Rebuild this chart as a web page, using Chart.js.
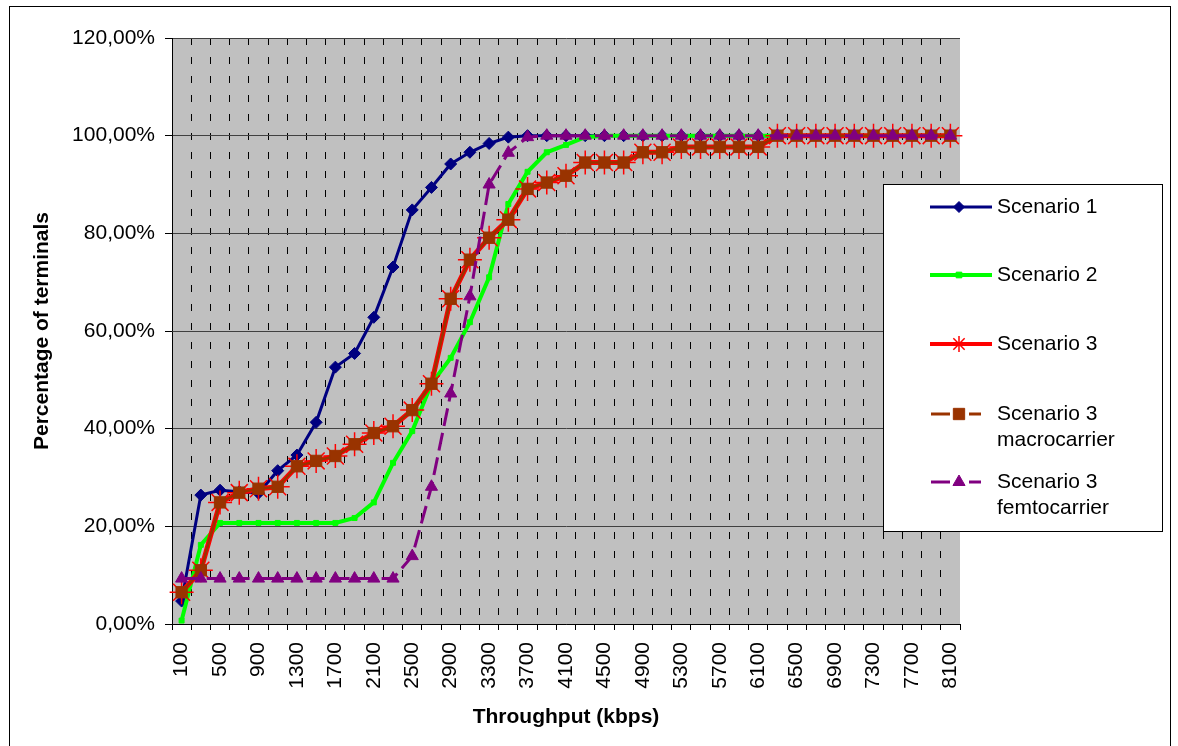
<!DOCTYPE html>
<html><head><meta charset="utf-8">
<script src="https://cdn.jsdelivr.net/npm/chart.js@4.4.1/dist/chart.umd.min.js"></script>
<style>html,body{margin:0;padding:0;background:#fff;}#wrap{width:1178px;height:746px;position:relative;}</style>
</head><body><div id="wrap"><canvas id="c" width="1178" height="746"></canvas></div>
<script>
const categories = [100,300,500,700,900,1100,1300,1500,1700,1900,2100,2300,2500,2700,2900,3100,3300,3500,3700,3900,4100,4300,4500,4700,4900,5100,5300,5500,5700,5900,6100,6300,6500,6700,6900,7100,7300,7500,7700,7900,8100];
const scenario1 = [4.7,26.4,27.4,27.1,26.8,31.4,34.6,41.3,52.6,55.4,62.8,73.1,84.8,89.4,94.2,96.6,98.4,99.7,100,100,100,100,100,100,100,100,100,100,100,100,100,100,100,100,100,100,100,100,100,100,100];
const scenario2 = [0.7,16.2,20.7,20.7,20.7,20.7,20.7,20.7,20.7,21.7,24.9,33.0,39.5,49.2,54.5,61.8,71.0,86.0,92.6,96.6,98.1,99.7,100,100,100,100,100,100,100,100,100,100,100,100,100,100,100,100,100,100,100];
const scenario3 = [6.5,11.0,24.9,26.9,27.7,28.1,32.3,33.4,34.4,36.8,39.1,40.5,43.8,49.2,66.6,74.6,79.1,82.8,89.1,90.4,91.8,94.5,94.5,94.5,96.6,96.6,97.7,97.7,97.7,97.7,97.7,100,100,100,100,100,100,100,100,100,100];
const scenario3Macro = [6.5,11.0,24.9,26.9,27.7,28.1,32.3,33.4,34.4,36.8,39.1,40.5,43.8,49.2,66.6,74.6,79.1,82.8,89.1,90.4,91.8,94.5,94.5,94.5,96.6,96.6,97.7,97.7,97.7,97.7,97.7,100,100,100,100,100,100,100,100,100,100];
const scenario3Femto = [9.3,9.3,9.3,9.3,9.3,9.3,9.3,9.3,9.3,9.3,9.3,9.3,13.9,28.1,47.2,67.1,90.0,96.5,99.7,100,100,100,100,100,100,100,100,100,100,100,100,100,100,100,100,100,100,100,100,100,100];
const yTicks = [0,20,40,60,80,100,120];

const FONT = "'Liberation Sans', Arial, sans-serif";
Chart.defaults.font.family = FONT;
Chart.defaults.font.size = 21;
Chart.defaults.color = '#000';

const legendItems = [
  {text:['Scenario 1'], y:207, color:'#000080', lw:3, style:'rectRot', r:5.5, bw:1, segs:[[930,992]]},
  {text:['Scenario 2'], y:275, color:'#00FF00', lw:4, style:'rect', r:4, bw:1, segs:[[930,992]]},
  {text:['Scenario 3'], y:344, color:'#FF0000', lw:4, style:'star', r:8, bw:1.5, segs:[[930,992]]},
  {text:['Scenario 3','macrocarrier'], y:414, color:'#993300', lw:3, style:'rect', r:8, bw:1, segs:[[931,950],[969,981]]},
  {text:['Scenario 3','femtocarrier'], y:482, color:'#800080', lw:3, style:'triangle', r:7, bw:1, segs:[[931,950],[969,981]]}
];

const bgPlugin = {
  id:'bg',
  beforeDraw(chart){
    const {ctx, chartArea:a} = chart;
    ctx.save();
    ctx.fillStyle = '#fff';
    ctx.fillRect(0,0,chart.width,chart.height);
    ctx.fillStyle = '#C0C0C0';
    ctx.fillRect(a.left, a.top, a.right-a.left, a.bottom-a.top);
    ctx.restore();
  },
  afterDraw(chart){
    const ctx = chart.ctx;
    ctx.save();
    ctx.strokeStyle = '#000'; ctx.lineWidth = 1;
    ctx.strokeRect(9.5, 6.5, 1161, 745);
    ctx.fillStyle = '#fff';
    ctx.fillRect(883.5, 184.5, 279, 347);
    ctx.strokeRect(883.5, 184.5, 279, 347);
    legendItems.forEach(it => {
      ctx.strokeStyle = it.color; ctx.lineWidth = it.lw; ctx.setLineDash([]);
      it.segs.forEach(s => { ctx.beginPath(); ctx.moveTo(s[0], it.y); ctx.lineTo(s[1], it.y); ctx.stroke(); });
      ctx.fillStyle = it.color; ctx.strokeStyle = it.color; ctx.lineWidth = it.bw;
      Chart.helpers.drawPoint(ctx, {pointStyle: it.style, radius: it.r, rotation: 0, borderWidth: it.bw}, 959, it.y);
      ctx.fillStyle = '#000'; ctx.font = '21px ' + FONT; ctx.textBaseline = 'middle'; ctx.textAlign = 'left';
      it.text.forEach((t, k) => ctx.fillText(t, 997, it.y + k*26));
    });
    ctx.restore();
  }
};

function ds(label, data, color, width, style, radius, order, extra){
  return Object.assign({label, data, borderColor: color, backgroundColor: color, borderWidth: width,
    pointStyle: style, pointRadius: radius, pointHoverRadius: radius, pointBackgroundColor: color,
    pointBorderColor: color, pointBorderWidth: 1, tension: 0, order, fill: false}, extra || {});
}

new Chart(document.getElementById('c'), {
  type: 'line',
  data: {
    labels: categories,
    datasets: [
      ds('Scenario 1', scenario1, '#000080', 3, 'rectRot', 6, 5),
      ds('Scenario 2', scenario2, '#00FF00', 4, 'rect', 3.5, 4),
      ds('Scenario 3', scenario3, '#FF0000', 5, 'star', 12, 3, {pointBorderWidth: 1.5}),
      ds('Scenario 3 macrocarrier', scenario3Macro, '#993300', 2.5, 'rect', 8, 2),
      ds('Scenario 3 femtocarrier', scenario3Femto, '#800080', 3, 'triangle', 7, 1, {borderDash:[18,7]})
    ]
  },
  options: {
    responsive: false, animation: false, devicePixelRatio: 1,
    layout: {padding: {left: 0, top: 38, right: 218, bottom: 0}},
    plugins: {legend: {display: false}, tooltip: {enabled: false}},
    events: [],
    scales: {
      x: {
        type: 'category', offset: true,
        grid: {offset: true, color: c => (c.tick ? '#000' : 'rgba(0,0,0,0)'), tickColor: '#000', lineWidth: 1, tickLength: 6},
        border: {display: true, color: '#000', width: 1, dash: [7, 12]},
        ticks: {autoSkip: false, minRotation: 90, maxRotation: 90, padding: 12, font: {size: 21},
          callback: (v, i) => (i % 2 === 0 ? String(categories[i]) : '')},
        title: {display: true, text: 'Throughput (kbps)', font: {size: 21, weight: 'bold'}, padding: {top: 0, bottom: 16.4}},
        afterFit: s => { s.height = 122; }
      },
      y: {
        min: 0, max: 120,
        afterBuildTicks: s => { s.ticks = yTicks.map(v => ({value: v})); },
        grid: {color: '#404040', tickColor: '#000', lineWidth: 1, tickLength: 7},
        border: {display: true, color: '#000', width: 1},
        ticks: {padding: 10, font: {size: 21}, callback: v => v.toFixed(2).replace('.', ',') + '%'},
        title: {display: true, text: 'Percentage of terminals', font: {size: 21, weight: 'bold'}, padding: {top: 29.4, bottom: 0}},
        afterFit: s => { s.width = 172; }
      }
    }
  },
  plugins: [bgPlugin]
});
</script></body></html>
